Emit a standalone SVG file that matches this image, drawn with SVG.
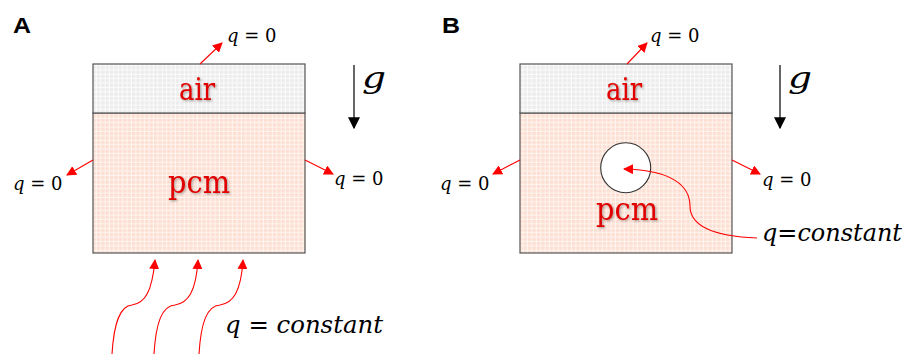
<svg xmlns="http://www.w3.org/2000/svg" width="908" height="354" viewBox="0 0 908 354">
<defs>
<pattern id="gridPcm" width="4.4" height="4.4" patternUnits="userSpaceOnUse">
<rect width="4.4" height="4.4" fill="#fff4ef"/>
<rect x="0" y="0" width="3.3" height="3.3" fill="#fcdfd2"/>
</pattern>
<pattern id="gridAir" width="4.4" height="4.4" patternUnits="userSpaceOnUse">
<rect width="4.4" height="4.4" fill="#fbfbfb"/>
<rect x="0" y="0" width="3.3" height="3.3" fill="#ececec"/>
</pattern>
<marker id="redHead" viewBox="0 0 10 10" refX="9" refY="5" markerWidth="10" markerHeight="10" markerUnits="userSpaceOnUse" orient="auto">
<path d="M0,0 L10,5 L0,10 Z" fill="#ff0000"/>
</marker>
<marker id="blackHead" viewBox="0 0 10 10" refX="9" refY="5" markerWidth="12" markerHeight="12" markerUnits="userSpaceOnUse" orient="auto">
<path d="M0,0 L10,5 L0,10 Z" fill="#000"/>
</marker>
<filter id="shadow" x="-20%" y="-20%" width="140%" height="140%">
<feDropShadow dx="1.2" dy="1.2" stdDeviation="0.8" flood-color="#000" flood-opacity="0.35"/>
</filter>
</defs>
<style>
.lbl{font-family:'Liberation Sans',Arial,sans-serif;font-weight:bold;font-size:22px;fill:#000}
.ser{font-family:'DejaVu Serif','Liberation Serif',serif}
.eq{font-size:18px;fill:#000}
.it{font-style:italic}
.up{font-style:normal}
.big{font-size:24px;fill:#000;font-style:italic}
.mat{font-size:31px;fill:#e00000;filter:url(#shadow)}
.g{font-size:30px;font-style:italic;fill:#000}
.box{stroke:#555;stroke-width:1.2}
.red{stroke:#ff0000;stroke-width:1.1;fill:none;marker-end:url(#redHead)}
.blk{stroke:#000;stroke-width:1.2;fill:none;marker-end:url(#blackHead)}
</style>
<rect width="908" height="354" fill="#fff"/>

<g id="panelA">
<text class="lbl" x="13" y="33" textLength="18" lengthAdjust="spacingAndGlyphs">A</text>
<g id="boxA">
<rect x="93" y="113" width="212" height="140" fill="url(#gridPcm)" class="box"/>
<rect x="93" y="64" width="212" height="49" fill="url(#gridAir)" class="box"/>
<text class="ser mat" x="179" y="100" textLength="36" lengthAdjust="spacingAndGlyphs">air</text>
<text class="ser mat" x="168" y="193" textLength="62" lengthAdjust="spacingAndGlyphs">pcm</text>
</g>
<text class="ser eq" x="227" y="42"><tspan class="it">q</tspan> = 0</text>
<text class="ser eq" x="13" y="190"><tspan class="it">q</tspan> = 0</text>
<text class="ser eq" x="334" y="185"><tspan class="it">q</tspan> = 0</text>
<text class="ser g" x="362" y="88" textLength="24" lengthAdjust="spacingAndGlyphs">g</text>
<text class="ser big" x="225" y="333" textLength="158" lengthAdjust="spacingAndGlyphs">q<tspan class="up"> = </tspan>constant</text>
</g>

<g id="panelB">
<text class="lbl" x="442" y="33" textLength="18" lengthAdjust="spacingAndGlyphs">B</text>
<g id="boxB">
<rect x="520" y="113" width="212" height="140" fill="url(#gridPcm)" class="box"/>
<rect x="520" y="64" width="212" height="49" fill="url(#gridAir)" class="box"/>
<circle cx="625.7" cy="167.7" r="25" fill="#fff" stroke="#333" stroke-width="1.1"/>
<text class="ser mat" x="606" y="100" textLength="36" lengthAdjust="spacingAndGlyphs">air</text>
<text class="ser mat" x="596" y="220" textLength="62" lengthAdjust="spacingAndGlyphs">pcm</text>
</g>
<text class="ser eq" x="650" y="42"><tspan class="it">q</tspan> = 0</text>
<text class="ser eq" x="440" y="190"><tspan class="it">q</tspan> = 0</text>
<text class="ser eq" x="762" y="186"><tspan class="it">q</tspan> = 0</text>
<text class="ser g" x="788" y="88" textLength="24" lengthAdjust="spacingAndGlyphs">g</text>
<text class="ser big" x="762" y="241" textLength="140" lengthAdjust="spacingAndGlyphs">q<tspan class="up">=</tspan>constant</text>
</g>

<g id="connectors">
<line class="red" x1="200" y1="64" x2="222" y2="43"/>
<line class="red" x1="93" y1="160" x2="67" y2="175"/>
<line class="red" x1="305" y1="160" x2="333" y2="174"/>
<line class="blk" x1="354" y1="65" x2="354" y2="128"/>
<path class="red" d="M112 354 C114 322 120 306 132 305 C145 303 152 292 155 260"/>
<path class="red" d="M154 354 C156 322 162 306 175 305 C188 303 196 292 198 260"/>
<path class="red" d="M199 354 C201 322 207 306 220 305 C233 303 241 292 243 260"/>
<line class="red" x1="627" y1="64" x2="647" y2="43"/>
<line class="red" x1="520" y1="160" x2="493" y2="174"/>
<line class="red" x1="732" y1="160" x2="760" y2="174"/>
<line class="blk" x1="780" y1="65" x2="780" y2="128"/>
<path class="red" d="M757 238 C706 236 690 222 690 206 C690 186 672 170 624 169"/>
</g>
</svg>
